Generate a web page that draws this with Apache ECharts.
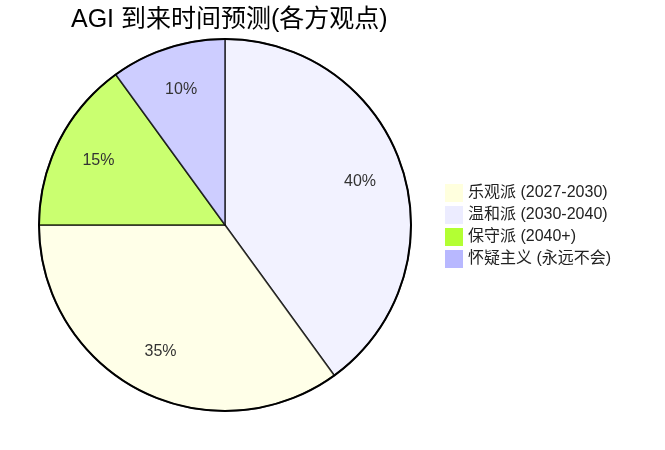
<!DOCTYPE html>
<html>
<head><meta charset="UTF-8"><style>body{margin:0}#main{width:665px;height:450px}</style></head>
<body>
<div id="main"></div>
<script src="https://cdn.jsdelivr.net/npm/echarts@6/dist/echarts.min.js"></script>
<script>
var names = ['温和派 (2030-2040)', '乐观派 (2027-2030)', '保守派 (2040+)', '怀疑主义 (永远不会)'];
var values = [40, 35, 15, 10];
var colors = ['#ECECFF', '#ffffde', '#b3ff33', '#b8b8ff'];
var legendOrder = ['乐观派 (2027-2030)', '温和派 (2030-2040)', '保守派 (2040+)', '怀疑主义 (永远不会)'];

var chart = echarts.init(document.getElementById('main'));
var main = names.map(function (n, i) {
  return { name: n, value: values[i], itemStyle: { color: colors[i] } };
});
var labels = names.map(function (n, i) { return { name: n, value: values[i] }; });
chart.setOption({
  animation: false,
  title: { text: 'AGI 到来时间预测(各方观点)', left: 66, top: 3,
    textStyle: { fontFamily: 'Liberation Sans, Noto Sans CJK SC', fontSize: 25, fontWeight: 'normal', color: '#000' } },
  legend: {
    orient: 'vertical', left: 440, top: 179, itemWidth: 18, itemHeight: 18, itemGap: 4,
    icon: 'rect', data: legendOrder,
    itemStyle: { opacity: 1, borderWidth: 0 },
    textStyle: { fontFamily: 'Liberation Sans, Noto Sans CJK SC', fontSize: 16, lineHeight: 18, color: '#222' }
  },
  series: [{
    type: 'pie', center: [225, 225], radius: [0, 186], startAngle: 90, clockwise: true,
    data: main, silent: true,
    itemStyle: { opacity: 0.7, borderColor: '#000', borderWidth: 1.5 },
    label: { show: false }, labelLine: { show: false }
  }, {
    type: 'pie', center: [225, 225], radius: [0, 186], startAngle: 90, silent: true,
    data: [{ value: 1, itemStyle: { color: 'transparent', borderColor: '#000', borderWidth: 2 } }],
    label: { show: false }, labelLine: { show: false }, legendHoverLink: false
  }, {
    type: 'pie', center: [225, 225], radius: [0, 278], startAngle: 90, silent: true,
    data: labels, itemStyle: { color: 'rgba(0,0,0,0)', borderWidth: 0 },
    label: { show: true, position: 'inside', formatter: '{d}%', color: '#333', fontSize: 16,
      fontFamily: 'Liberation Sans' },
    labelLine: { show: false }
  }]
});
</script>
</body>
</html>
